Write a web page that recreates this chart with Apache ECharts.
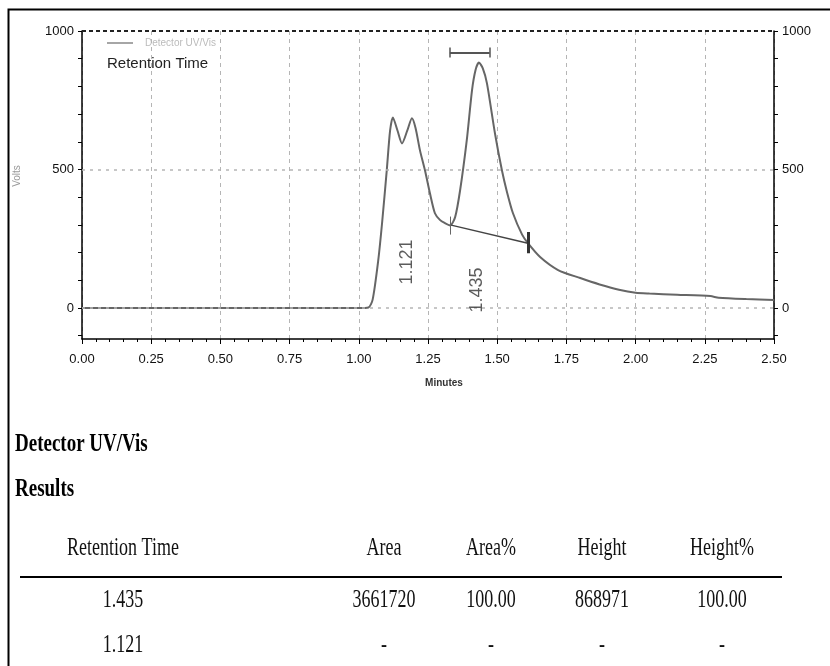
<!DOCTYPE html>
<html>
<head>
<meta charset="utf-8">
<script src="https://cdn.jsdelivr.net/npm/echarts@6/dist/echarts.min.js"></script>
<style>
html,body{margin:0;padding:0;background:#fff;}
#chart{width:830px;height:666px;}
</style>
</head>
<body>
<div id="chart"></div>
<script>
// ---- data ----
const times = [0, 0.5, 1.0, 1.035, 1.05, 1.07, 1.084, 1.101, 1.113, 1.123, 1.14, 1.156, 1.175, 1.192, 1.205, 1.221, 1.239, 1.257, 1.275, 1.293, 1.31, 1.33, 1.348, 1.366, 1.39, 1.409, 1.422, 1.434, 1.448, 1.463, 1.492, 1.517, 1.535, 1.557, 1.59, 1.611, 1.655, 1.72, 1.8, 1.87, 1.94, 2.0, 2.05, 2.15, 2.27, 2.3, 2.4, 2.5];
const volts = [0, 0, 0, 2, 30, 170, 306, 497, 640, 688, 640, 594, 640, 685, 650, 569, 497, 414, 342, 318, 307, 298, 328, 425, 605, 786, 860, 886, 865, 811, 630, 497, 420, 342, 265, 234, 184, 137, 108, 85, 66, 55, 52, 48, 43, 37, 32, 29];
const xTickLabels = ['0.00','0.25','0.50','0.75','1.00','1.25','1.50','1.75','2.00','2.25','2.50'];
const yTickValues = [-100, 0, 100, 200, 300, 400, 500, 600, 700, 800, 900, 1000];
const yLabelValues = [0, 500, 1000];
const peakLabels = [{name: '1.121', value: [1.174, 166]}, {name: '1.435', value: [1.427, 65]}];
const baselineSeg = [[1.33, 300], [1.611, 234]];
const startTick = [[1.33, 330], [1.33, 265]];
const endTick = [[1.611, 274], [1.611, 198]];
const peakBar = [[1.329, 922], [1.473, 922]];
const peakCapL = [[1.329, 940], [1.329, 904]];
const peakCapR = [[1.473, 940], [1.473, 904]];
const tableTitle = 'Detector UV/Vis';
const tableSubtitle = 'Results';
const tableHeaders = ['Retention Time', 'Area', 'Area%', 'Height', 'Height%'];
const tableRows = [
  ['1.435', '3661720', '100.00', '868971', '100.00'],
  ['1.121', '-', '-', '-', '-']
];

// ---- chart ----
const chart = echarts.init(document.getElementById('chart'), null, {renderer: 'canvas'});
const trace = times.map((t, i) => [t, volts[i]]);

const colX = [123, 384, 491, 602, 722];
const serif = '"Liberation Serif", "Times New Roman", serif';
const graphics = [
  {type: 'polyline', shape: {points: [[8.5, 666], [8.5, 9.5], [830, 9.5]]}, style: {stroke: '#000', lineWidth: 2, fill: null}, silent: true},
  {type: 'line', shape: {x1: 107, y1: 43, x2: 133, y2: 43}, style: {stroke: '#888', lineWidth: 1.5}},
  {type: 'text', x: 145, y: 43, style: {text: 'Detector UV/Vis', font: '10px "Liberation Sans", Arial, sans-serif', fill: '#bbb', align: 'left', verticalAlign: 'middle'}},
  {type: 'text', x: 107, y: 64, style: {text: 'Retention Time', font: '15px "Liberation Sans", Arial, sans-serif', fill: '#222', align: 'left', verticalAlign: 'middle'}},
  {type: 'text', x: 17, y: 176, rotation: Math.PI / 2, style: {text: 'Volts', font: '10px "Liberation Sans", Arial, sans-serif', fill: '#999', align: 'center', verticalAlign: 'middle'}},
  {type: 'text', x: 444, y: 383, style: {text: 'Minutes', font: 'bold 10px "Liberation Sans", Arial, sans-serif', fill: '#333', align: 'center', verticalAlign: 'middle'}},
  {type: 'text', x: 15, y: 445, scaleY: 1.3, style: {text: tableTitle, font: 'bold 19px ' + serif, fill: '#000', align: 'left', verticalAlign: 'middle'}},
  {type: 'text', x: 15, y: 490, scaleY: 1.3, style: {text: tableSubtitle, font: 'bold 19px ' + serif, fill: '#000', align: 'left', verticalAlign: 'middle'}},
  {type: 'line', shape: {x1: 20, y1: 577, x2: 782, y2: 577}, style: {stroke: '#000', lineWidth: 2}}
];
tableHeaders.forEach((h, i) => {
  graphics.push({type: 'text', x: colX[i], y: 549, scaleY: 1.35, style: {text: h, font: '18px ' + serif, fill: '#111', align: 'center', verticalAlign: 'middle'}});
});
tableRows.forEach((row, r) => {
  row.forEach((c, i) => {
    graphics.push({type: 'text', x: colX[i], y: 601 + r * 45, scaleY: 1.35, style: {text: c, font: '18px ' + serif, fill: '#111', align: 'center', verticalAlign: 'middle'}});
  });
});

const labelFont = {fontFamily: '"Liberation Sans", Arial, sans-serif', fontSize: 13, color: '#111'};
const yAxisCommon = {
  type: 'value', min: -112, max: 1000,
  axisLine: {show: true, lineStyle: {color: '#000', width: 1.5}},
  axisTick: {show: true, customValues: yTickValues, length: 4, lineStyle: {color: '#000', width: 1}},
  axisLabel: Object.assign({customValues: yLabelValues, margin: 8, formatter: (v) => String(v)}, labelFont),
  splitLine: {show: false}
};

function segSeries(coords, width, color) {
  return {
    type: 'lines', coordinateSystem: 'cartesian2d', xAxisIndex: 0, yAxisIndex: 0,
    silent: true, z: 4,
    lineStyle: {color: color, width: width, opacity: 1},
    data: [{coords: coords}]
  };
}

chart.setOption({
  animation: false,
  backgroundColor: '#fff',
  grid: {left: 82, right: 56, top: 31, bottom: 327, containLabel: false},
  xAxis: {
    type: 'value', min: 0, max: 2.5, interval: 0.25,
    axisLine: {show: true, onZero: false, lineStyle: {color: '#000', width: 1.5}},
    axisTick: {show: true, length: 5, lineStyle: {color: '#000'}},
    minorTick: {show: true, splitNumber: 5, length: 3, lineStyle: {color: '#000'}},
    axisLabel: Object.assign({margin: 14, formatter: (v) => xTickLabels[Math.round(v / 0.25)]}, labelFont),
    splitLine: {show: true, lineStyle: {color: '#b5b5b5', type: [4, 4], width: 1}}
  },
  yAxis: [
    Object.assign({position: 'left'}, yAxisCommon),
    Object.assign({position: 'right'}, yAxisCommon)
  ],
  graphic: graphics,
  series: [
    {
      type: 'line', data: trace, showSymbol: false, smooth: 0.25,
      lineStyle: {color: '#666', width: 2}, z: 3, silent: true,
      markLine: {
        silent: true, symbol: ['none', 'none'], label: {show: false},
        data: [
          {yAxis: 0, lineStyle: {color: '#b5b5b5', type: [3, 5], width: 1.5}},
          {yAxis: 500, lineStyle: {color: '#b5b5b5', type: [3, 5], width: 1.5}},
          {yAxis: 1000, lineStyle: {color: '#222', type: [4, 3], width: 2}}
        ]
      }
    },
    segSeries(baselineSeg, 1.5, '#444'),
    segSeries(startTick, 1, '#666'),
    segSeries(endTick, 3, '#333'),
    segSeries(peakBar, 2, '#555'),
    segSeries(peakCapL, 1.5, '#555'),
    segSeries(peakCapR, 1.5, '#555'),
    {
      type: 'scatter', data: peakLabels, symbolSize: 0, silent: true, z: 5,
      label: {
        show: true, position: 'inside', rotate: 90, formatter: (p) => p.name,
        fontFamily: '"Liberation Sans", Arial, sans-serif', fontSize: 18, color: '#333'
      }
    }
  ]
});
</script>
</body>
</html>
